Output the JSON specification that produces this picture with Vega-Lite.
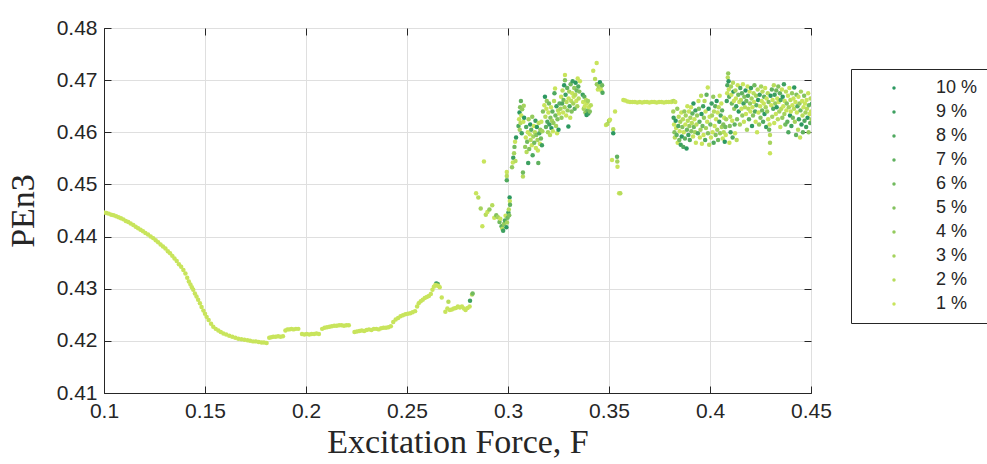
{
"$schema":"https://vega.github.io/schema/vega-lite/v6.json",
"width":707,"height":365,
"autosize":{"type":"none"},
"padding":{"left":104,"top":28,"right":176,"bottom":71},
"background":"white",
"config":{
 "view":{"stroke":"#262626","strokeWidth":1},
 "axis":{"labelFont":"Liberation Sans","labelFontSize":21,"labelColor":"#262626","domainColor":"#262626","tickColor":"#262626","tickSize":-7,"labelPadding":14,"gridColor":"#dfdfdf","gridWidth":1,"titleFont":"Liberation Serif","titleFontWeight":"normal","titleFontSize":34,"titleColor":"#262626","labelFlush":false,"labelOverlap":false,"labelBound":false},
 "legend":{"orient":"none","legendX":747,"legendY":41,"strokeColor":"#262626","fillColor":"white","padding":10,"symbolType":"circle","symbolSize":12,"symbolStrokeWidth":0,"labelFont":"Liberation Sans","labelFontSize":18,"labelColor":"#262626","rowPadding":6,"symbolOffset":24,"labelOffset":33}
},
"data":{"values":[
{"F":0.1000,"P":0.4446,"s":"1 %"},{"F":0.1012,"P":0.4445,"s":"1 %"},{"F":0.1024,"P":0.4444,"s":"1 %"},{"F":0.1036,"P":0.4442,"s":"1 %"},{"F":0.1048,"P":0.4441,"s":"1 %"},{"F":0.1060,"P":0.4439,"s":"1 %"},{"F":0.1072,"P":0.4437,"s":"1 %"},{"F":0.1084,"P":0.4435,"s":"1 %"},{"F":0.1096,"P":0.4433,"s":"1 %"},{"F":0.1108,"P":0.4430,"s":"1 %"},{"F":0.1120,"P":0.4428,"s":"1 %"},{"F":0.1132,"P":0.4425,"s":"1 %"},{"F":0.1145,"P":0.4422,"s":"1 %"},{"F":0.1157,"P":0.4419,"s":"1 %"},{"F":0.1169,"P":0.4416,"s":"1 %"},{"F":0.1181,"P":0.4413,"s":"1 %"},{"F":0.1193,"P":0.4410,"s":"1 %"},{"F":0.1205,"P":0.4407,"s":"1 %"},{"F":0.1218,"P":0.4404,"s":"1 %"},{"F":0.1231,"P":0.4400,"s":"1 %"},{"F":0.1244,"P":0.4397,"s":"1 %"},{"F":0.1256,"P":0.4393,"s":"1 %"},{"F":0.1268,"P":0.4389,"s":"1 %"},{"F":0.1280,"P":0.4385,"s":"1 %"},{"F":0.1292,"P":0.4381,"s":"1 %"},{"F":0.1304,"P":0.4377,"s":"1 %"},{"F":0.1316,"P":0.4372,"s":"1 %"},{"F":0.1327,"P":0.4368,"s":"1 %"},{"F":0.1338,"P":0.4363,"s":"1 %"},{"F":0.1349,"P":0.4358,"s":"1 %"},{"F":0.1360,"P":0.4353,"s":"1 %"},{"F":0.1371,"P":0.4347,"s":"1 %"},{"F":0.1382,"P":0.4342,"s":"1 %"},{"F":0.1393,"P":0.4336,"s":"1 %"},{"F":0.1403,"P":0.4329,"s":"1 %"},{"F":0.1412,"P":0.4321,"s":"1 %"},{"F":0.1420,"P":0.4314,"s":"1 %"},{"F":0.1428,"P":0.4308,"s":"1 %"},{"F":0.1435,"P":0.4303,"s":"1 %"},{"F":0.1442,"P":0.4298,"s":"1 %"},{"F":0.1450,"P":0.4291,"s":"1 %"},{"F":0.1458,"P":0.4285,"s":"1 %"},{"F":0.1466,"P":0.4279,"s":"1 %"},{"F":0.1475,"P":0.4272,"s":"1 %"},{"F":0.1483,"P":0.4265,"s":"1 %"},{"F":0.1492,"P":0.4258,"s":"1 %"},{"F":0.1500,"P":0.4252,"s":"1 %"},{"F":0.1508,"P":0.4246,"s":"1 %"},{"F":0.1518,"P":0.4240,"s":"1 %"},{"F":0.1530,"P":0.4233,"s":"1 %"},{"F":0.1541,"P":0.4227,"s":"1 %"},{"F":0.1553,"P":0.4223,"s":"1 %"},{"F":0.1566,"P":0.4220,"s":"1 %"},{"F":0.1578,"P":0.4217,"s":"1 %"},{"F":0.1591,"P":0.4214,"s":"1 %"},{"F":0.1605,"P":0.4212,"s":"1 %"},{"F":0.1620,"P":0.4210,"s":"1 %"},{"F":0.1635,"P":0.4208,"s":"1 %"},{"F":0.1650,"P":0.4206,"s":"1 %"},{"F":0.1665,"P":0.4204,"s":"1 %"},{"F":0.1680,"P":0.4203,"s":"1 %"},{"F":0.1695,"P":0.4202,"s":"1 %"},{"F":0.1710,"P":0.4201,"s":"1 %"},{"F":0.1723,"P":0.4200,"s":"1 %"},{"F":0.1738,"P":0.4199,"s":"1 %"},{"F":0.1752,"P":0.4199,"s":"1 %"},{"F":0.1766,"P":0.4198,"s":"1 %"},{"F":0.1780,"P":0.4197,"s":"1 %"},{"F":0.1792,"P":0.4197,"s":"1 %"},{"F":0.1805,"P":0.4196,"s":"1 %"},
{"F":0.1818,"P":0.4206,"s":"1 %"},{"F":0.1828,"P":0.4207,"s":"1 %"},{"F":0.1838,"P":0.4208,"s":"1 %"},{"F":0.1850,"P":0.4208,"s":"1 %"},{"F":0.1862,"P":0.4209,"s":"1 %"},{"F":0.1874,"P":0.4208,"s":"1 %"},{"F":0.1886,"P":0.4209,"s":"1 %"},{"F":0.1898,"P":0.4220,"s":"1 %"},{"F":0.1908,"P":0.4222,"s":"1 %"},{"F":0.1918,"P":0.4222,"s":"1 %"},{"F":0.1928,"P":0.4223,"s":"1 %"},{"F":0.1938,"P":0.4222,"s":"1 %"},{"F":0.1950,"P":0.4223,"s":"1 %"},{"F":0.1962,"P":0.4223,"s":"1 %"},{"F":0.1980,"P":0.4213,"s":"1 %"},{"F":0.1992,"P":0.4212,"s":"1 %"},{"F":0.2004,"P":0.4213,"s":"1 %"},{"F":0.2016,"P":0.4212,"s":"1 %"},{"F":0.2028,"P":0.4213,"s":"1 %"},{"F":0.2040,"P":0.4213,"s":"1 %"},{"F":0.2052,"P":0.4214,"s":"1 %"},{"F":0.2064,"P":0.4213,"s":"1 %"},{"F":0.2080,"P":0.4223,"s":"1 %"},{"F":0.2092,"P":0.4225,"s":"1 %"},{"F":0.2104,"P":0.4226,"s":"1 %"},{"F":0.2116,"P":0.4227,"s":"1 %"},{"F":0.2128,"P":0.4228,"s":"1 %"},{"F":0.2140,"P":0.4229,"s":"1 %"},{"F":0.2152,"P":0.4229,"s":"1 %"},{"F":0.2164,"P":0.4230,"s":"1 %"},{"F":0.2176,"P":0.4230,"s":"1 %"},{"F":0.2188,"P":0.4229,"s":"1 %"},{"F":0.2200,"P":0.4230,"s":"1 %"},{"F":0.2212,"P":0.4230,"s":"1 %"},{"F":0.2240,"P":0.4217,"s":"1 %"},{"F":0.2252,"P":0.4218,"s":"1 %"},{"F":0.2264,"P":0.4219,"s":"1 %"},{"F":0.2276,"P":0.4220,"s":"1 %"},{"F":0.2288,"P":0.4219,"s":"1 %"},{"F":0.2300,"P":0.4221,"s":"1 %"},{"F":0.2312,"P":0.4222,"s":"1 %"},{"F":0.2324,"P":0.4221,"s":"1 %"},{"F":0.2336,"P":0.4223,"s":"1 %"},{"F":0.2348,"P":0.4223,"s":"1 %"},{"F":0.2360,"P":0.4222,"s":"1 %"},{"F":0.2372,"P":0.4224,"s":"1 %"},{"F":0.2384,"P":0.4225,"s":"1 %"},{"F":0.2396,"P":0.4225,"s":"1 %"},{"F":0.2408,"P":0.4226,"s":"1 %"},{"F":0.2420,"P":0.4228,"s":"1 %"},{"F":0.2432,"P":0.4236,"s":"1 %"},{"F":0.2444,"P":0.4241,"s":"1 %"},{"F":0.2456,"P":0.4244,"s":"1 %"},{"F":0.2468,"P":0.4247,"s":"1 %"},{"F":0.2480,"P":0.4249,"s":"1 %"},{"F":0.2492,"P":0.4251,"s":"1 %"},{"F":0.2504,"P":0.4252,"s":"1 %"},{"F":0.2516,"P":0.4253,"s":"1 %"},{"F":0.2528,"P":0.4255,"s":"1 %"},{"F":0.2540,"P":0.4257,"s":"1 %"},{"F":0.2550,"P":0.4266,"s":"1 %"},{"F":0.2558,"P":0.4272,"s":"1 %"},{"F":0.2568,"P":0.4276,"s":"1 %"},{"F":0.2578,"P":0.4279,"s":"1 %"},{"F":0.2588,"P":0.4282,"s":"1 %"},{"F":0.2598,"P":0.4284,"s":"1 %"},{"F":0.2608,"P":0.4286,"s":"1 %"},{"F":0.2618,"P":0.4290,"s":"1 %"},{"F":0.2626,"P":0.4298,"s":"1 %"},{"F":0.2633,"P":0.4304,"s":"1 %"},{"F":0.2645,"P":0.4310,"s":"10 %"},{"F":0.2652,"P":0.4309,"s":"8 %"},{"F":0.2640,"P":0.4307,"s":"1 %"},{"F":0.2648,"P":0.4306,"s":"1 %"},{"F":0.2656,"P":0.4305,"s":"1 %"},{"F":0.2662,"P":0.4303,"s":"1 %"},
{"F":0.2672,"P":0.4283,"s":"1 %"},{"F":0.2690,"P":0.4256,"s":"1 %"},{"F":0.2700,"P":0.4262,"s":"1 %"},{"F":0.2705,"P":0.4275,"s":"2 %"},{"F":0.2712,"P":0.4259,"s":"1 %"},{"F":0.2722,"P":0.4260,"s":"1 %"},{"F":0.2732,"P":0.4262,"s":"1 %"},{"F":0.2742,"P":0.4263,"s":"1 %"},{"F":0.2752,"P":0.4266,"s":"1 %"},{"F":0.2762,"P":0.4264,"s":"1 %"},{"F":0.2772,"P":0.4266,"s":"1 %"},{"F":0.2782,"P":0.4262,"s":"1 %"},{"F":0.2790,"P":0.4259,"s":"1 %"},{"F":0.2800,"P":0.4263,"s":"1 %"},{"F":0.2810,"P":0.4266,"s":"1 %"},{"F":0.2812,"P":0.4277,"s":"9 %"},{"F":0.2822,"P":0.4289,"s":"2 %"},{"F":0.2825,"P":0.4291,"s":"6 %"},
{"F":0.2842,"P":0.4483,"s":"1 %"},{"F":0.2853,"P":0.4475,"s":"2 %"},{"F":0.2881,"P":0.4544,"s":"1 %"},{"F":0.2865,"P":0.4454,"s":"3 %"},{"F":0.2873,"P":0.4420,"s":"1 %"},{"F":0.2890,"P":0.4442,"s":"2 %"},{"F":0.2898,"P":0.4447,"s":"1 %"},{"F":0.2908,"P":0.4452,"s":"4 %"},{"F":0.2922,"P":0.4460,"s":"2 %"},{"F":0.2932,"P":0.4436,"s":"1 %"},{"F":0.2942,"P":0.4441,"s":"5 %"},{"F":0.2950,"P":0.4437,"s":"3 %"},{"F":0.2958,"P":0.4428,"s":"6 %"},{"F":0.2962,"P":0.4434,"s":"1 %"},{"F":0.2968,"P":0.4420,"s":"7 %"},{"F":0.2972,"P":0.4415,"s":"2 %"},{"F":0.2976,"P":0.4411,"s":"9 %"},{"F":0.2980,"P":0.4424,"s":"4 %"},{"F":0.2985,"P":0.4431,"s":"8 %"},{"F":0.2988,"P":0.4440,"s":"1 %"},{"F":0.2992,"P":0.4418,"s":"10 %"},{"F":0.2995,"P":0.4427,"s":"3 %"},{"F":0.2998,"P":0.4436,"s":"6 %"},{"F":0.3002,"P":0.4446,"s":"9 %"},{"F":0.3004,"P":0.4452,"s":"2 %"},{"F":0.3006,"P":0.4441,"s":"5 %"},{"F":0.3008,"P":0.4475,"s":"10 %"},{"F":0.3009,"P":0.4468,"s":"1 %"},{"F":0.3010,"P":0.4461,"s":"7 %"},{"F":0.2994,"P":0.4508,"s":"8 %"},{"F":0.2994,"P":0.4516,"s":"2 %"},{"F":0.2994,"P":0.4524,"s":"1 %"},{"F":0.3020,"P":0.4533,"s":"4 %"},{"F":0.3024,"P":0.4542,"s":"1 %"},{"F":0.3026,"P":0.4551,"s":"9 %"},{"F":0.3030,"P":0.4560,"s":"3 %"},{"F":0.3032,"P":0.4572,"s":"6 %"},{"F":0.3035,"P":0.4582,"s":"1 %"},{"F":0.3040,"P":0.4590,"s":"10 %"},{"F":0.3037,"P":0.4545,"s":"2 %"},
{"F":0.3052,"P":0.4612,"s":"8 %"},{"F":0.3055,"P":0.4625,"s":"1 %"},{"F":0.3057,"P":0.4638,"s":"10 %"},{"F":0.3058,"P":0.4605,"s":"3 %"},{"F":0.3060,"P":0.4648,"s":"5 %"},{"F":0.3062,"P":0.4618,"s":"2 %"},{"F":0.3064,"P":0.4660,"s":"7 %"},{"F":0.3066,"P":0.4632,"s":"1 %"},{"F":0.3068,"P":0.4598,"s":"9 %"},{"F":0.3070,"P":0.4644,"s":"4 %"},{"F":0.3074,"P":0.4515,"s":"2 %"},{"F":0.3074,"P":0.4523,"s":"6 %"},{"F":0.3076,"P":0.4620,"s":"1 %"},{"F":0.3078,"P":0.4651,"s":"3 %"},{"F":0.3080,"P":0.4628,"s":"10 %"},
{"F":0.3085,"P":0.4572,"s":"4 %"},{"F":0.3088,"P":0.4590,"s":"1 %"},{"F":0.3090,"P":0.4610,"s":"8 %"},{"F":0.3092,"P":0.4562,"s":"2 %"},{"F":0.3095,"P":0.4582,"s":"6 %"},{"F":0.3098,"P":0.4600,"s":"1 %"},{"F":0.3100,"P":0.4541,"s":"9 %"},{"F":0.3102,"P":0.4625,"s":"3 %"},{"F":0.3105,"P":0.4568,"s":"5 %"},{"F":0.3108,"P":0.4596,"s":"1 %"},{"F":0.3110,"P":0.4615,"s":"10 %"},{"F":0.3112,"P":0.4585,"s":"2 %"},{"F":0.3115,"P":0.4605,"s":"7 %"},{"F":0.3118,"P":0.4575,"s":"1 %"},{"F":0.3120,"P":0.4630,"s":"4 %"},{"F":0.3122,"P":0.4556,"s":"8 %"},{"F":0.3125,"P":0.4592,"s":"3 %"},{"F":0.3128,"P":0.4612,"s":"1 %"},{"F":0.3130,"P":0.4580,"s":"6 %"},{"F":0.3133,"P":0.4600,"s":"2 %"},{"F":0.3136,"P":0.4622,"s":"9 %"},{"F":0.3138,"P":0.4570,"s":"1 %"},{"F":0.3140,"P":0.4595,"s":"5 %"},{"F":0.3143,"P":0.4610,"s":"10 %"},{"F":0.3146,"P":0.4585,"s":"3 %"},{"F":0.3148,"P":0.4565,"s":"1 %"},{"F":0.3150,"P":0.4541,"s":"7 %"},{"F":0.3152,"P":0.4618,"s":"2 %"},{"F":0.3155,"P":0.4598,"s":"8 %"},{"F":0.3158,"P":0.4578,"s":"1 %"},{"F":0.3160,"P":0.4605,"s":"4 %"},{"F":0.3163,"P":0.4588,"s":"6 %"},{"F":0.3165,"P":0.4620,"s":"1 %"},{"F":0.3168,"P":0.4575,"s":"9 %"},{"F":0.3170,"P":0.4602,"s":"3 %"},{"F":0.3173,"P":0.4640,"s":"5 %"},
{"F":0.3180,"P":0.4652,"s":"1 %"},{"F":0.3183,"P":0.4668,"s":"10 %"},{"F":0.3185,"P":0.4630,"s":"2 %"},{"F":0.3188,"P":0.4610,"s":"7 %"},{"F":0.3190,"P":0.4645,"s":"1 %"},{"F":0.3192,"P":0.4660,"s":"4 %"},{"F":0.3195,"P":0.4620,"s":"8 %"},{"F":0.3198,"P":0.4600,"s":"3 %"},{"F":0.3200,"P":0.4638,"s":"1 %"},{"F":0.3203,"P":0.4655,"s":"6 %"},{"F":0.3205,"P":0.4615,"s":"9 %"},{"F":0.3208,"P":0.4595,"s":"2 %"},{"F":0.3210,"P":0.4628,"s":"5 %"},{"F":0.3213,"P":0.4648,"s":"1 %"},{"F":0.3215,"P":0.4608,"s":"10 %"},{"F":0.3218,"P":0.4622,"s":"3 %"},{"F":0.3220,"P":0.4640,"s":"7 %"},{"F":0.3222,"P":0.4602,"s":"1 %"},{"F":0.3225,"P":0.4618,"s":"4 %"},{"F":0.3228,"P":0.4660,"s":"2 %"},{"F":0.3230,"P":0.4675,"s":"8 %"},{"F":0.3233,"P":0.4684,"s":"1 %"},{"F":0.3235,"P":0.4632,"s":"6 %"},{"F":0.3238,"P":0.4612,"s":"3 %"},{"F":0.3240,"P":0.4650,"s":"9 %"},{"F":0.3243,"P":0.4598,"s":"1 %"},{"F":0.3245,"P":0.4625,"s":"5 %"},{"F":0.3248,"P":0.4642,"s":"2 %"},{"F":0.3250,"P":0.4605,"s":"10 %"},{"F":0.3253,"P":0.4636,"s":"1 %"},{"F":0.3255,"P":0.4655,"s":"7 %"},
{"F":0.3260,"P":0.4645,"s":"3 %"},{"F":0.3263,"P":0.4668,"s":"1 %"},{"F":0.3265,"P":0.4628,"s":"4 %"},{"F":0.3268,"P":0.4655,"s":"8 %"},{"F":0.3270,"P":0.4680,"s":"2 %"},{"F":0.3273,"P":0.4638,"s":"1 %"},{"F":0.3275,"P":0.4662,"s":"6 %"},{"F":0.3278,"P":0.4690,"s":"10 %"},{"F":0.3280,"P":0.4648,"s":"3 %"},{"F":0.3282,"P":0.4710,"s":"1 %"},{"F":0.3282,"P":0.4700,"s":"5 %"},{"F":0.3285,"P":0.4672,"s":"9 %"},{"F":0.3288,"P":0.4632,"s":"1 %"},{"F":0.3290,"P":0.4658,"s":"2 %"},{"F":0.3293,"P":0.4685,"s":"7 %"},{"F":0.3295,"P":0.4642,"s":"4 %"},{"F":0.3299,"P":0.4611,"s":"10 %"},{"F":0.3300,"P":0.4665,"s":"1 %"},{"F":0.3303,"P":0.4678,"s":"3 %"},{"F":0.3305,"P":0.4650,"s":"8 %"},{"F":0.3308,"P":0.4628,"s":"1 %"},{"F":0.3310,"P":0.4692,"s":"6 %"},{"F":0.3313,"P":0.4660,"s":"2 %"},{"F":0.3315,"P":0.4640,"s":"5 %"},{"F":0.3318,"P":0.4675,"s":"1 %"},{"F":0.3320,"P":0.4698,"s":"9 %"},{"F":0.3323,"P":0.4655,"s":"3 %"},{"F":0.3325,"P":0.4668,"s":"1 %"},{"F":0.3328,"P":0.4685,"s":"4 %"},{"F":0.3330,"P":0.4645,"s":"7 %"},{"F":0.3333,"P":0.4672,"s":"2 %"},{"F":0.3335,"P":0.4695,"s":"10 %"},{"F":0.3338,"P":0.4660,"s":"1 %"},{"F":0.3340,"P":0.4680,"s":"6 %"},{"F":0.3343,"P":0.4650,"s":"3 %"},{"F":0.3345,"P":0.4703,"s":"1 %"},{"F":0.3348,"P":0.4688,"s":"8 %"},{"F":0.3350,"P":0.4665,"s":"2 %"},{"F":0.3353,"P":0.4678,"s":"5 %"},{"F":0.3356,"P":0.4698,"s":"1 %"},
{"F":0.3370,"P":0.4672,"s":"9 %"},{"F":0.3372,"P":0.4658,"s":"1 %"},{"F":0.3375,"P":0.4645,"s":"3 %"},{"F":0.3378,"P":0.4668,"s":"7 %"},{"F":0.3380,"P":0.4650,"s":"1 %"},{"F":0.3383,"P":0.4638,"s":"4 %"},{"F":0.3386,"P":0.4662,"s":"2 %"},{"F":0.3389,"P":0.4633,"s":"10 %"},{"F":0.3390,"P":0.4655,"s":"1 %"},{"F":0.3393,"P":0.4642,"s":"6 %"},{"F":0.3396,"P":0.4660,"s":"3 %"},{"F":0.3398,"P":0.4636,"s":"9 %"},{"F":0.3400,"P":0.4648,"s":"1 %"},{"F":0.3405,"P":0.4640,"s":"5 %"},{"F":0.3410,"P":0.4652,"s":"2 %"},
{"F":0.3422,"P":0.4718,"s":"1 %"},{"F":0.3439,"P":0.4733,"s":"1 %"},{"F":0.3431,"P":0.4702,"s":"2 %"},{"F":0.3440,"P":0.4692,"s":"4 %"},{"F":0.3445,"P":0.4682,"s":"1 %"},{"F":0.3450,"P":0.4688,"s":"3 %"},{"F":0.3455,"P":0.4696,"s":"10 %"},{"F":0.3458,"P":0.4686,"s":"2 %"},{"F":0.3462,"P":0.4680,"s":"1 %"},{"F":0.3466,"P":0.4690,"s":"6 %"},{"F":0.3468,"P":0.4676,"s":"8 %"},
{"F":0.3485,"P":0.4614,"s":"1 %"},{"F":0.3492,"P":0.4616,"s":"2 %"},{"F":0.3500,"P":0.4622,"s":"3 %"},{"F":0.3505,"P":0.4624,"s":"1 %"},{"F":0.3515,"P":0.4547,"s":"1 %"},{"F":0.3521,"P":0.4606,"s":"2 %"},{"F":0.3521,"P":0.4598,"s":"10 %"},{"F":0.3530,"P":0.4640,"s":"1 %"},{"F":0.3540,"P":0.4553,"s":"7 %"},{"F":0.3541,"P":0.4544,"s":"3 %"},{"F":0.3542,"P":0.4534,"s":"1 %"},{"F":0.3550,"P":0.4483,"s":"1 %"},{"F":0.3556,"P":0.4483,"s":"2 %"},
{"F":0.3571,"P":0.4662,"s":"1 %"},{"F":0.3580,"P":0.4661,"s":"1 %"},{"F":0.3592,"P":0.4659,"s":"1 %"},{"F":0.3604,"P":0.4658,"s":"1 %"},{"F":0.3616,"P":0.4658,"s":"1 %"},{"F":0.3628,"P":0.4658,"s":"1 %"},{"F":0.3640,"P":0.4657,"s":"1 %"},{"F":0.3652,"P":0.4658,"s":"1 %"},{"F":0.3664,"P":0.4657,"s":"1 %"},{"F":0.3676,"P":0.4658,"s":"1 %"},{"F":0.3688,"P":0.4658,"s":"1 %"},{"F":0.3700,"P":0.4657,"s":"1 %"},{"F":0.3712,"P":0.4658,"s":"1 %"},{"F":0.3724,"P":0.4658,"s":"1 %"},{"F":0.3736,"P":0.4657,"s":"1 %"},{"F":0.3748,"P":0.4658,"s":"1 %"},{"F":0.3760,"P":0.4658,"s":"1 %"},{"F":0.3772,"P":0.4657,"s":"1 %"},{"F":0.3784,"P":0.4658,"s":"1 %"},{"F":0.3796,"P":0.4658,"s":"1 %"},{"F":0.3808,"P":0.4658,"s":"1 %"},
{"F":0.3812,"P":0.4659,"s":"1 %"},{"F":0.3820,"P":0.4660,"s":"2 %"},{"F":0.3828,"P":0.4658,"s":"1 %"},{"F":0.3818,"P":0.4640,"s":"3 %"},{"F":0.3820,"P":0.4628,"s":"9 %"},{"F":0.3822,"P":0.4615,"s":"1 %"},{"F":0.3824,"P":0.4600,"s":"5 %"},{"F":0.3826,"P":0.4590,"s":"2 %"},{"F":0.3830,"P":0.4622,"s":"10 %"},{"F":0.3832,"P":0.4608,"s":"1 %"},{"F":0.3835,"P":0.4595,"s":"7 %"},{"F":0.3838,"P":0.4645,"s":"4 %"},{"F":0.3840,"P":0.4580,"s":"1 %"},{"F":0.3843,"P":0.4612,"s":"8 %"},{"F":0.3845,"P":0.4630,"s":"2 %"},{"F":0.3848,"P":0.4585,"s":"6 %"},{"F":0.3850,"P":0.4602,"s":"1 %"},{"F":0.3853,"P":0.4620,"s":"3 %"},{"F":0.3855,"P":0.4576,"s":"9 %"},{"F":0.3858,"P":0.4638,"s":"1 %"},{"F":0.3860,"P":0.4592,"s":"10 %"},{"F":0.3863,"P":0.4610,"s":"5 %"},{"F":0.3866,"P":0.4625,"s":"2 %"},{"F":0.3868,"P":0.4572,"s":"8 %"},{"F":0.3870,"P":0.4600,"s":"1 %"},{"F":0.3873,"P":0.4640,"s":"4 %"},{"F":0.3876,"P":0.4588,"s":"7 %"},{"F":0.3878,"P":0.4615,"s":"1 %"},{"F":0.3880,"P":0.4632,"s":"3 %"},{"F":0.3884,"P":0.4569,"s":"10 %"},{"F":0.3886,"P":0.4605,"s":"6 %"},{"F":0.3888,"P":0.4650,"s":"1 %"},{"F":0.3890,"P":0.4622,"s":"2 %"},{"F":0.3893,"P":0.4595,"s":"9 %"},{"F":0.3896,"P":0.4640,"s":"1 %"},{"F":0.3898,"P":0.4612,"s":"4 %"},{"F":0.3900,"P":0.4585,"s":"8 %"},{"F":0.3903,"P":0.4628,"s":"3 %"},{"F":0.3906,"P":0.4648,"s":"1 %"},{"F":0.3908,"P":0.4602,"s":"5 %"},{"F":0.3910,"P":0.4618,"s":"2 %"},{"F":0.3913,"P":0.4636,"s":"7 %"},{"F":0.3916,"P":0.4592,"s":"1 %"},{"F":0.3918,"P":0.4655,"s":"10 %"},{"F":0.3920,"P":0.4610,"s":"6 %"},{"F":0.3923,"P":0.4625,"s":"1 %"},{"F":0.3926,"P":0.4600,"s":"3 %"},{"F":0.3928,"P":0.4642,"s":"9 %"},{"F":0.3930,"P":0.4580,"s":"1 %"},{"F":0.3933,"P":0.4615,"s":"2 %"},{"F":0.3936,"P":0.4632,"s":"4 %"},{"F":0.3940,"P":0.4598,"s":"8 %"},{"F":0.3943,"P":0.4660,"s":"1 %"},{"F":0.3945,"P":0.4645,"s":"5 %"},{"F":0.3948,"P":0.4620,"s":"7 %"},{"F":0.3950,"P":0.4590,"s":"1 %"},{"F":0.3953,"P":0.4605,"s":"3 %"},{"F":0.3956,"P":0.4670,"s":"2 %"},{"F":0.3958,"P":0.4635,"s":"10 %"},{"F":0.3960,"P":0.4578,"s":"1 %"},{"F":0.3963,"P":0.4612,"s":"6 %"},{"F":0.3966,"P":0.4650,"s":"9 %"},{"F":0.3968,"P":0.4595,"s":"1 %"},{"F":0.3970,"P":0.4628,"s":"4 %"},{"F":0.3973,"P":0.4660,"s":"2 %"},{"F":0.3976,"P":0.4585,"s":"8 %"},{"F":0.3978,"P":0.4640,"s":"1 %"},{"F":0.3980,"P":0.4608,"s":"3 %"},{"F":0.3983,"P":0.4672,"s":"7 %"},{"F":0.3986,"P":0.4620,"s":"1 %"},{"F":0.3989,"P":0.4686,"s":"1 %"},{"F":0.3990,"P":0.4598,"s":"5 %"},{"F":0.3993,"P":0.4645,"s":"10 %"},{"F":0.3996,"P":0.4576,"s":"2 %"},{"F":0.3998,"P":0.4630,"s":"1 %"},
{"F":0.4002,"P":0.4615,"s":"6 %"},{"F":0.4005,"P":0.4590,"s":"1 %"},{"F":0.4008,"P":0.4655,"s":"9 %"},{"F":0.4010,"P":0.4632,"s":"3 %"},{"F":0.4013,"P":0.4600,"s":"1 %"},{"F":0.4016,"P":0.4668,"s":"4 %"},{"F":0.4018,"P":0.4580,"s":"8 %"},{"F":0.4020,"P":0.4640,"s":"2 %"},{"F":0.4023,"P":0.4612,"s":"1 %"},{"F":0.4026,"P":0.4650,"s":"7 %"},{"F":0.4028,"P":0.4595,"s":"5 %"},{"F":0.4030,"P":0.4625,"s":"1 %"},{"F":0.4033,"P":0.4660,"s":"10 %"},{"F":0.4036,"P":0.4605,"s":"3 %"},{"F":0.4038,"P":0.4638,"s":"1 %"},{"F":0.4040,"P":0.4585,"s":"6 %"},{"F":0.4043,"P":0.4648,"s":"2 %"},{"F":0.4046,"P":0.4620,"s":"9 %"},{"F":0.4048,"P":0.4670,"s":"1 %"},{"F":0.4050,"P":0.4598,"s":"4 %"},{"F":0.4053,"P":0.4632,"s":"8 %"},{"F":0.4056,"P":0.4655,"s":"1 %"},{"F":0.4058,"P":0.4610,"s":"3 %"},{"F":0.4060,"P":0.4642,"s":"7 %"},{"F":0.4063,"P":0.4588,"s":"1 %"},
{"F":0.4066,"P":0.4615,"s":"5 %"},{"F":0.4068,"P":0.4600,"s":"2 %"},{"F":0.4070,"P":0.4628,"s":"1 %"},{"F":0.4073,"P":0.4582,"s":"10 %"},{"F":0.4076,"P":0.4610,"s":"6 %"},{"F":0.4078,"P":0.4595,"s":"1 %"},{"F":0.4080,"P":0.4625,"s":"3 %"},{"F":0.4083,"P":0.4660,"s":"9 %"},{"F":0.4085,"P":0.4675,"s":"1 %"},{"F":0.4086,"P":0.4690,"s":"8 %"},{"F":0.4088,"P":0.4705,"s":"2 %"},{"F":0.4090,"P":0.4713,"s":"4 %"},{"F":0.4092,"P":0.4698,"s":"10 %"},{"F":0.4093,"P":0.4682,"s":"1 %"},{"F":0.4095,"P":0.4668,"s":"7 %"},{"F":0.4096,"P":0.4580,"s":"1 %"},{"F":0.4098,"P":0.4612,"s":"5 %"},{"F":0.4100,"P":0.4630,"s":"2 %"},{"F":0.4102,"P":0.4600,"s":"9 %"},{"F":0.4104,"P":0.4688,"s":"3 %"},{"F":0.4106,"P":0.4672,"s":"1 %"},{"F":0.4108,"P":0.4655,"s":"6 %"},{"F":0.4110,"P":0.4622,"s":"1 %"},{"F":0.4112,"P":0.4590,"s":"8 %"},{"F":0.4114,"P":0.4695,"s":"2 %"},{"F":0.4116,"P":0.4678,"s":"10 %"},{"F":0.4118,"P":0.4660,"s":"1 %"},{"F":0.4120,"P":0.4645,"s":"4 %"},{"F":0.4122,"P":0.4615,"s":"7 %"},{"F":0.4124,"P":0.4598,"s":"1 %"},
{"F":0.4126,"P":0.4680,"s":"3 %"},{"F":0.4128,"P":0.4665,"s":"1 %"},{"F":0.4130,"P":0.4650,"s":"9 %"},{"F":0.4132,"P":0.4585,"s":"2 %"},{"F":0.4134,"P":0.4625,"s":"5 %"},{"F":0.4137,"P":0.4690,"s":"1 %"},{"F":0.4140,"P":0.4672,"s":"6 %"},{"F":0.4142,"P":0.4640,"s":"10 %"},{"F":0.4145,"P":0.4658,"s":"1 %"},{"F":0.4148,"P":0.4615,"s":"3 %"},{"F":0.4150,"P":0.4685,"s":"8 %"},{"F":0.4153,"P":0.4662,"s":"2 %"},{"F":0.4156,"P":0.4645,"s":"1 %"},{"F":0.4158,"P":0.4675,"s":"7 %"},{"F":0.4160,"P":0.4632,"s":"4 %"},{"F":0.4163,"P":0.4692,"s":"1 %"},{"F":0.4166,"P":0.4655,"s":"9 %"},{"F":0.4168,"P":0.4620,"s":"1 %"},{"F":0.4170,"P":0.4668,"s":"5 %"},{"F":0.4173,"P":0.4648,"s":"2 %"},{"F":0.4176,"P":0.4680,"s":"10 %"},{"F":0.4178,"P":0.4635,"s":"1 %"},{"F":0.4180,"P":0.4660,"s":"6 %"},{"F":0.4183,"P":0.4605,"s":"3 %"},{"F":0.4186,"P":0.4688,"s":"1 %"},{"F":0.4188,"P":0.4670,"s":"8 %"},{"F":0.4190,"P":0.4645,"s":"2 %"},{"F":0.4193,"P":0.4625,"s":"7 %"},{"F":0.4196,"P":0.4678,"s":"1 %"},{"F":0.4198,"P":0.4655,"s":"4 %"},{"F":0.4200,"P":0.4640,"s":"1 %"},{"F":0.4203,"P":0.4685,"s":"9 %"},{"F":0.4206,"P":0.4665,"s":"3 %"},{"F":0.4208,"P":0.4612,"s":"10 %"},{"F":0.4210,"P":0.4648,"s":"1 %"},{"F":0.4213,"P":0.4632,"s":"5 %"},{"F":0.4216,"P":0.4675,"s":"2 %"},{"F":0.4218,"P":0.4658,"s":"1 %"},{"F":0.4220,"P":0.4690,"s":"6 %"},{"F":0.4223,"P":0.4640,"s":"8 %"},{"F":0.4226,"P":0.4620,"s":"1 %"},{"F":0.4228,"P":0.4670,"s":"3 %"},{"F":0.4230,"P":0.4652,"s":"7 %"},{"F":0.4233,"P":0.4600,"s":"1 %"},{"F":0.4236,"P":0.4682,"s":"2 %"},{"F":0.4238,"P":0.4662,"s":"10 %"},{"F":0.4240,"P":0.4638,"s":"1 %"},{"F":0.4243,"P":0.4615,"s":"4 %"},{"F":0.4246,"P":0.4672,"s":"9 %"},{"F":0.4248,"P":0.4650,"s":"1 %"},{"F":0.4250,"P":0.4628,"s":"5 %"},{"F":0.4253,"P":0.4688,"s":"3 %"},{"F":0.4256,"P":0.4660,"s":"1 %"},{"F":0.4258,"P":0.4642,"s":"6 %"},{"F":0.4260,"P":0.4678,"s":"2 %"},{"F":0.4263,"P":0.4620,"s":"8 %"},{"F":0.4266,"P":0.4655,"s":"1 %"},{"F":0.4268,"P":0.4668,"s":"7 %"},{"F":0.4270,"P":0.4635,"s":"10 %"},{"F":0.4273,"P":0.4685,"s":"1 %"},{"F":0.4276,"P":0.4648,"s":"3 %"},{"F":0.4278,"P":0.4610,"s":"9 %"},{"F":0.4280,"P":0.4665,"s":"1 %"},{"F":0.4283,"P":0.4640,"s":"4 %"},{"F":0.4286,"P":0.4675,"s":"2 %"},{"F":0.4288,"P":0.4625,"s":"1 %"},{"F":0.4290,"P":0.4658,"s":"5 %"},{"F":0.4293,"P":0.4605,"s":"6 %"},{"F":0.4295,"P":0.4615,"s":"1 %"},{"F":0.4297,"P":0.4595,"s":"2 %"},{"F":0.4297,"P":0.4580,"s":"3 %"},{"F":0.4297,"P":0.4560,"s":"1 %"},{"F":0.4300,"P":0.4670,"s":"10 %"},{"F":0.4303,"P":0.4652,"s":"1 %"},{"F":0.4306,"P":0.4682,"s":"7 %"},{"F":0.4308,"P":0.4630,"s":"3 %"},{"F":0.4310,"P":0.4662,"s":"1 %"},{"F":0.4313,"P":0.4645,"s":"8 %"},{"F":0.4316,"P":0.4690,"s":"2 %"},{"F":0.4318,"P":0.4618,"s":"1 %"},{"F":0.4320,"P":0.4672,"s":"9 %"},{"F":0.4323,"P":0.4655,"s":"4 %"},{"F":0.4326,"P":0.4635,"s":"1 %"},{"F":0.4328,"P":0.4680,"s":"6 %"},{"F":0.4330,"P":0.4648,"s":"10 %"},{"F":0.4333,"P":0.4665,"s":"1 %"},{"F":0.4336,"P":0.4625,"s":"2 %"},{"F":0.4338,"P":0.4688,"s":"5 %"},{"F":0.4340,"P":0.4658,"s":"1 %"},{"F":0.4343,"P":0.4640,"s":"3 %"},{"F":0.4346,"P":0.4675,"s":"7 %"},{"F":0.4348,"P":0.4610,"s":"1 %"},{"F":0.4350,"P":0.4662,"s":"8 %"},{"F":0.4353,"P":0.4645,"s":"2 %"},{"F":0.4356,"P":0.4682,"s":"1 %"},{"F":0.4358,"P":0.4628,"s":"4 %"},{"F":0.4360,"P":0.4668,"s":"10 %"},{"F":0.4363,"P":0.4650,"s":"1 %"},{"F":0.4366,"P":0.4692,"s":"9 %"},{"F":0.4368,"P":0.4635,"s":"3 %"},{"F":0.4370,"P":0.4660,"s":"1 %"},{"F":0.4373,"P":0.4615,"s":"6 %"},{"F":0.4376,"P":0.4678,"s":"2 %"},{"F":0.4378,"P":0.4642,"s":"1 %"},{"F":0.4380,"P":0.4655,"s":"5 %"},{"F":0.4383,"P":0.4620,"s":"7 %"},{"F":0.4386,"P":0.4670,"s":"1 %"},{"F":0.4388,"P":0.4600,"s":"8 %"},{"F":0.4390,"P":0.4648,"s":"3 %"},{"F":0.4393,"P":0.4685,"s":"1 %"},{"F":0.4396,"P":0.4632,"s":"10 %"},{"F":0.4398,"P":0.4662,"s":"2 %"},{"F":0.4400,"P":0.4640,"s":"1 %"},{"F":0.4403,"P":0.4612,"s":"9 %"},{"F":0.4406,"P":0.4675,"s":"4 %"},{"F":0.4408,"P":0.4652,"s":"1 %"},{"F":0.4410,"P":0.4628,"s":"6 %"},{"F":0.4413,"P":0.4665,"s":"1 %"},{"F":0.4416,"P":0.4645,"s":"2 %"},{"F":0.4417,"P":0.4686,"s":"10 %"},{"F":0.4420,"P":0.4620,"s":"3 %"},{"F":0.4423,"P":0.4658,"s":"1 %"},{"F":0.4426,"P":0.4595,"s":"7 %"},{"F":0.4428,"P":0.4672,"s":"5 %"},{"F":0.4430,"P":0.4638,"s":"1 %"},{"F":0.4433,"P":0.4650,"s":"8 %"},{"F":0.4436,"P":0.4605,"s":"2 %"},{"F":0.4438,"P":0.4668,"s":"1 %"},{"F":0.4440,"P":0.4625,"s":"9 %"},{"F":0.4443,"P":0.4655,"s":"4 %"},{"F":0.4446,"P":0.4590,"s":"1 %"},{"F":0.4448,"P":0.4642,"s":"6 %"},{"F":0.4450,"P":0.4678,"s":"3 %"},{"F":0.4453,"P":0.4615,"s":"10 %"},{"F":0.4456,"P":0.4660,"s":"1 %"},{"F":0.4458,"P":0.4632,"s":"2 %"},{"F":0.4460,"P":0.4600,"s":"7 %"},{"F":0.4463,"P":0.4648,"s":"1 %"},{"F":0.4466,"P":0.4670,"s":"5 %"},{"F":0.4468,"P":0.4622,"s":"8 %"},{"F":0.4470,"P":0.4655,"s":"1 %"},{"F":0.4473,"P":0.4638,"s":"3 %"},{"F":0.4476,"P":0.4610,"s":"9 %"},{"F":0.4478,"P":0.4662,"s":"1 %"},{"F":0.4480,"P":0.4645,"s":"2 %"},{"F":0.4483,"P":0.4628,"s":"10 %"},{"F":0.4486,"P":0.4675,"s":"1 %"},{"F":0.4488,"P":0.4600,"s":"4 %"},{"F":0.4490,"P":0.4652,"s":"6 %"},{"F":0.4493,"P":0.4635,"s":"1 %"},{"F":0.4496,"P":0.4618,"s":"7 %"},{"F":0.4498,"P":0.4665,"s":"2 %"},{"F":0.4500,"P":0.4640,"s":"1 %"},{"F":0.4503,"P":0.4625,"s":"3 %"},{"F":0.4505,"P":0.4655,"s":"8 %"}
]},
"layer":[
 {"mark":{"type":"circle","size":20,"opacity":1,"clip":true},
  "encoding":{
   "x":{"field":"F","type":"quantitative","scale":{"domain":[0.1,0.45],"nice":false,"zero":false},
        "axis":{"orient":"bottom","values":[0.1,0.15,0.2,0.25,0.3,0.35,0.4,0.45],"format":"~g","title":"Excitation Force, F","titlePadding":4,"grid":true}},
   "y":{"field":"P","type":"quantitative","scale":{"domain":[0.41,0.48],"nice":false,"zero":false},
        "axis":{"orient":"left","values":[0.41,0.42,0.43,0.44,0.45,0.46,0.47,0.48],"format":".2f","title":"PEn3","titlePadding":16,"grid":true}},
   "color":{"field":"s","type":"nominal","title":null,
     "scale":{"domain":["10 %","9 %","8 %","7 %","6 %","5 %","4 %","3 %","2 %","1 %"],
              "range":["#2c9860","#3da060","#4fa95f","#60b15f","#71ba5e","#83c25e","#94cb5d","#a5d35d","#b7dc5c","#c8e45c"]}}
  }},
 {"transform":[{"filter":"datum.F == 0.1"}],
  "mark":{"type":"circle","opacity":0},
  "encoding":{
   "x":{"field":"F","type":"quantitative","axis":{"orient":"top","values":[0.1,0.15,0.2,0.25,0.3,0.35,0.4,0.45],"labels":false,"title":null,"grid":false,"domain":false}},
   "y":{"field":"P","type":"quantitative","axis":{"orient":"right","values":[0.41,0.42,0.43,0.44,0.45,0.46,0.47,0.48],"labels":false,"title":null,"grid":false,"domain":false}}
  }}
],
"resolve":{"axis":{"x":"independent","y":"independent"}}
}
